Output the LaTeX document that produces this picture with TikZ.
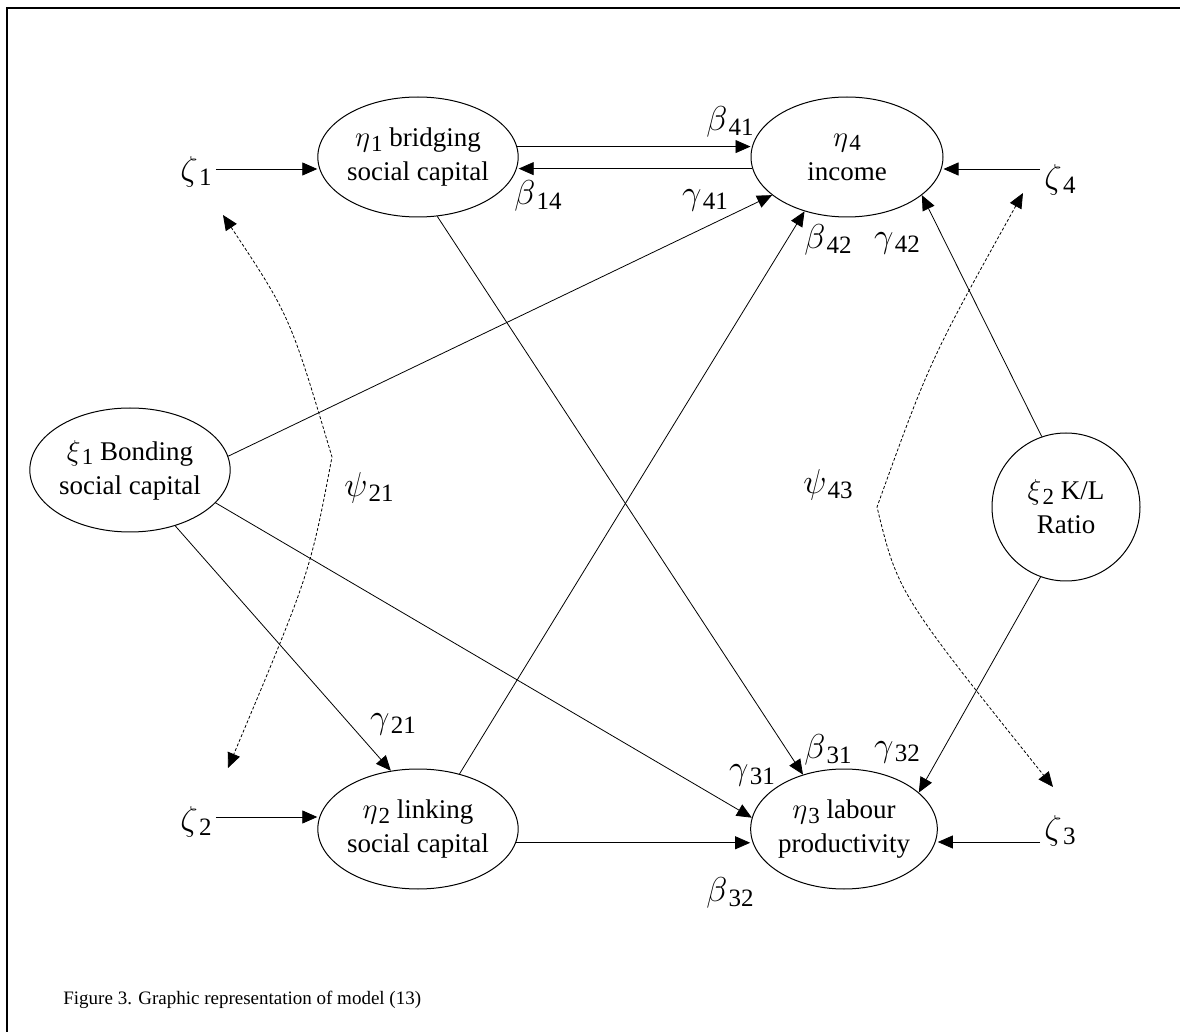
\documentclass[tikz,border=0pt]{standalone}
\usepackage{fontspec}
\setmainfont{Liberation Serif}
\usetikzlibrary{shapes.geometric,arrows.meta}

% greek symbol with an upright subscript
\newcommand{\sym}[3]{$#1$\kern0.6pt{\fontsize{#3}{#3}\selectfont\raisebox{-0.45ex}{#2}}}

\begin{document}
\begin{tikzpicture}[x=0.5pt,y=-0.5pt,
        latent/.style = {draw, ellipse, line width=0.5pt, inner sep=0pt, align=center,
                         minimum width=100pt, minimum height=60pt,
                         font=\fontsize{13.5}{17}\selectfont},
        lbl/.style = {inner sep=2pt, font=\fontsize{17}{18}\selectfont},
        effect/.style = {line width=0.4pt, -{Triangle[length=7.5pt,width=6.5pt]}},
        corr/.style = {line width=0.4pt, dash pattern=on 1.5pt off 1pt,
                       {Triangle[length=7.5pt,width=6.5pt]}-{Triangle[length=7.5pt,width=6.5pt]}}
        ]
        \useasboundingbox (0,0) rectangle (1180,1032);
        \draw[line width=1pt] (7,1032) -- (7,8) -- (1180,8);

        % latent variables
        \node (eta1) [latent] at (418,157) {\sym{\eta}{1}{11.5} bridging\\social capital};
        \node (eta4) [latent, minimum width=96pt] at (847,157) {\sym{\eta}{4}{11.5}\\income};
        \node (xi1) [latent, minimum height=62pt] at (130,470) {\sym{\xi}{1}{11.5} Bonding\\social capital};
        \node (xi2) [latent, circle, minimum size=74pt] at (1066,507) {\sym{\xi}{2}{11.5} K/L\\Ratio};
        \node (eta2) [latent] at (418,829) {\sym{\eta}{2}{11.5} linking\\social capital};
        \node (eta3) [latent, minimum width=93pt] at (844,829) {\sym{\eta}{3}{11.5} labour\\productivity};

        % disturbances
        \node (z1) [lbl] at (196,172) {\sym{\zeta}{1}{12.5}};
        \node (z2) [lbl] at (196,822) {\sym{\zeta}{2}{12.5}};
        \node (z3) [lbl] at (1060,831) {\sym{\zeta}{3}{12.5}};
        \node (z4) [lbl] at (1060,180) {\sym{\zeta}{4}{12.5}};

        % coefficients
        \node (b41) [lbl] at (730,122) {\sym{\beta}{41}{12.5}};
        \node (b14) [lbl] at (538,196) {\sym{\beta}{14}{12.5}};
        \node (g41) [lbl] at (705,200) {\sym{\gamma}{41}{12.5}};
        \node (b42) [lbl] at (828,240) {\sym{\beta}{42}{12.5}};
        \node (g42) [lbl] at (897,243) {\sym{\gamma}{42}{12.5}};
        \node (psi21) [lbl] at (369,488) {\sym{\psi}{21}{12.5}};
        \node (psi43) [lbl] at (828,485) {\sym{\psi}{43}{12.5}};
        \node (g21) [lbl] at (393,724) {\sym{\gamma}{21}{12.5}};
        \node (g31) [lbl] at (752,775) {\sym{\gamma}{31}{12.5}};
        \node (b31) [lbl] at (828,750) {\sym{\beta}{31}{12.5}};
        \node (g32) [lbl] at (897,752) {\sym{\gamma}{32}{12.5}};
        \node (b32) [lbl] at (730,893) {\sym{\beta}{32}{12.5}};

        \node (cap) [anchor=west, inner sep=2pt, font=\fontsize{9.5}{11}\selectfont] at (59,1000)
              {Figure 3. Graphic representation of model (13)};

        % ends of the covariances
        \coordinate (p21a) at (223,215);
        \coordinate (p21c) at (332,457);
        \coordinate (p21b) at (228,768);
        \coordinate (p43a) at (1023,193);
        \coordinate (p43c) at (877,507);
        \coordinate (p43b) at (1053,787);

        \draw[effect] ([yshift=1.5pt]z1.east) -- ([yshift=1.5pt]z1.east -| eta1.west);
        \draw[effect] ([yshift=2.5pt]z2.east) -- ([yshift=2.5pt]z2.east -| eta2.west);
        \draw[effect] ([yshift=-5.5pt]z3.west) -- ([yshift=-5.5pt]z3.west -| eta3.east);
        \draw[effect] ([yshift=5.5pt]z4.west) -- ([yshift=5.5pt]z4.west -| eta4.east);

        \draw[effect] (eta1.6) -- (eta1.6 -| eta4.west);
        \draw[effect] (eta4.187) -- (eta4.187 -| eta1.east);
        \draw[effect] (eta2.-8) -- (eta2.-8 -| eta3.west);
        \draw[effect] (xi1.8) -- (eta4.207);
        \draw[effect] (xi1.-21) -- (eta3.173);
        \draw[effect] (xi1.-51) -- (eta2.115);
        \draw[effect] (eta1.-72) -- (eta3.127);
        \draw[effect] (eta2.53) -- (eta4.232);
        \draw[effect] (xi2.109) -- (eta4.-27);
        \draw[effect] (xi2.250) -- (eta3.26);

        \draw[corr] (p21a) .. controls (290,316) .. (p21c) .. controls (310,573) .. (p21b);
        \draw[corr] (p43a) .. controls (930,360) .. (p43c) .. controls (898,593) .. (p43b);
\end{tikzpicture}
\end{document}
